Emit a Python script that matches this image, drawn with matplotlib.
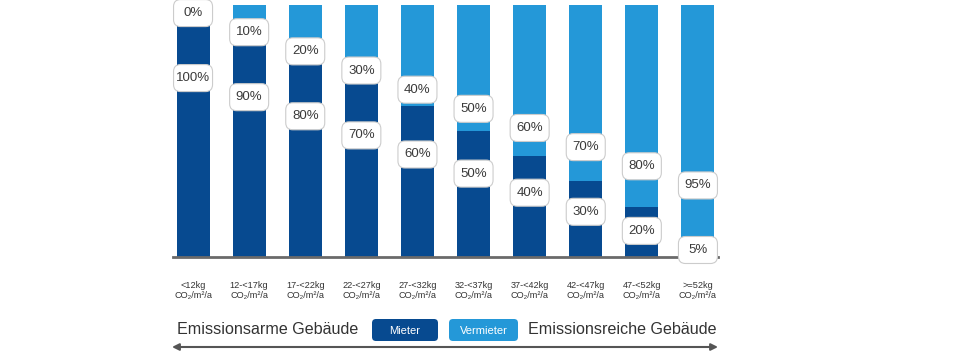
import matplotlib.pyplot as plt
from matplotlib.patches import FancyBboxPatch
from matplotlib.transforms import ScaledTranslation

plt.rcParams['font.family'] = ['Liberation Sans', 'DejaVu Sans']

# Kategorien und Anteile in %
kategorien = ['<12kg', '12-<17kg', '17-<22kg', '22-<27kg', '27-<32kg',
              '32-<37kg', '37-<42kg', '42-<47kg', '47-<52kg', '>=52kg']
mieter = [100, 90, 80, 70, 60, 50, 40, 30, 20, 5]
vermieter = [0, 10, 20, 30, 40, 50, 60, 70, 80, 95]

dunkel = '#074a90'
hell = '#2498d8'

fig = plt.figure(figsize=(9.7, 3.55), dpi=100)
ax = fig.add_axes([165 / 970, 98 / 355, 561 / 970, 252 / 355])

x = range(len(kategorien))
ax.bar(x, mieter, width=0.59, color=dunkel)
ax.bar(x, vermieter, width=0.59, bottom=mieter, color=hell)

ax.set_xlim(-0.5, len(kategorien) - 0.5)
ax.set_ylim(0, 100)
for s in ax.spines.values():
    s.set_visible(False)
ax.set_yticks([])
ax.set_xticks(list(x))
ax.set_xticklabels([k + '\nCO₂/m²/a' for k in kategorien], fontsize=6.6,
                   color='#333333', linespacing=1.2)
ax.tick_params(axis='x', length=0, pad=17)
ax.axhline(0, xmin=0.014, xmax=0.986, color='#6a6a6a', lw=2, clip_on=False)


def label(xv, yv, txt):
    tr = fig.dpi_scale_trans + ScaledTranslation(xv, yv, ax.transData)
    box = FancyBboxPatch((-0.195, -0.135), 0.39, 0.27,
                         boxstyle='round,pad=0,rounding_size=0.07',
                         fc='white', ec='#cccccc', lw=0.8,
                         transform=tr, clip_on=False, zorder=5)
    ax.add_artist(box)
    ax.text(xv, yv, txt, ha='center', va='center', fontsize=9.5,
            color='#3a3a3a', zorder=6, clip_on=False)


# Beschriftungen diagonal angeordnet
for i in x:
    label(i, 71.0 - i * 7.58, f'{mieter[i]}%')
    label(i, 96.8 - i * 7.6, f'{vermieter[i]}%')

# Legende und Pfeil unten, in Pixelkoordinaten
ov = fig.add_axes([0, 0, 1, 1], zorder=10)
ov.set_xlim(0, 970)
ov.set_ylim(355, 0)
ov.axis('off')
ov.patch.set_alpha(0)

ov.text(268, 330, 'Emissionsarme Gebäude', ha='center', va='center',
        fontsize=11.6, color='#333333')
ov.text(622, 330, 'Emissionsreiche Gebäude', ha='center', va='center',
        fontsize=11.6, color='#333333')
for x0, w, c, t in [(372, 66, dunkel, 'Mieter'), (449, 69, hell, 'Vermieter')]:
    ov.add_patch(FancyBboxPatch((x0, 319), w, 22,
                                boxstyle='round,pad=0,rounding_size=4',
                                fc=c, ec='none'))
    ov.text(x0 + w / 2, 330.5, t, ha='center', va='center', fontsize=8,
            color='white')

ov.annotate('', xy=(172, 347), xytext=(718, 347),
            arrowprops=dict(arrowstyle='<|-|>', color='#555555', lw=1.5,
                            mutation_scale=10, shrinkA=0, shrinkB=0))

fig.savefig('out.png', dpi=100)
